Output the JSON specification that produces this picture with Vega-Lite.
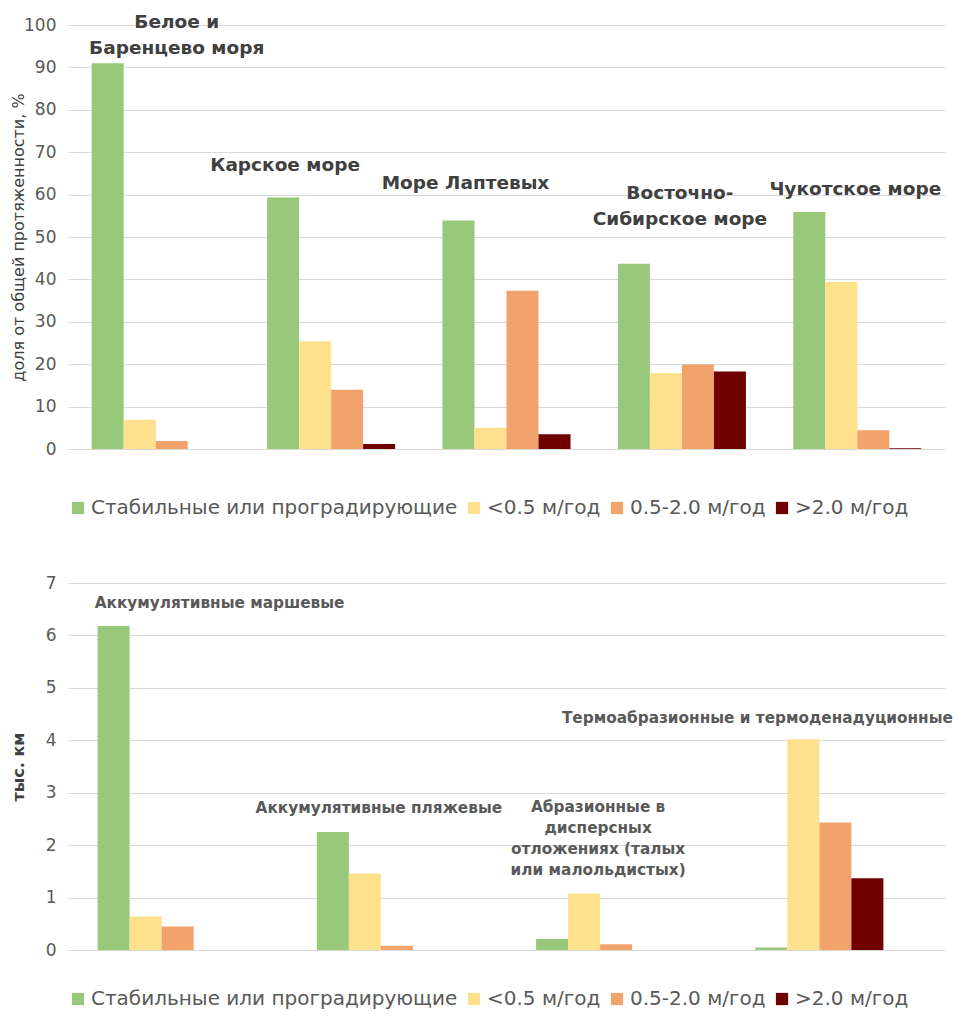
{
  "$schema": "https://vega.github.io/schema/vega-lite/v6.json",
  "background": "white",
  "padding": {"left": 10, "top": 13, "right": 5, "bottom": 5},
  "spacing": 56,
  "config": {
    "font": "DejaVu Sans",
    "view": {"stroke": null},
    "axisY": {
      "domain": false,
      "ticks": false,
      "gridColor": "#D9D9D9",
      "gridWidth": 1,
      "labelFont": "DejaVu Sans",
      "labelFontSize": 17,
      "labelColor": "#595959",
      "labelPadding": 12,
      "titleFont": "DejaVu Sans",
      "titleFontSize": 16,
      "titleColor": "#404040",
      "titleX": -50,
      "titleBaseline": "middle"
    },
    "legend": {
      "orient": "bottom",
      "direction": "horizontal",
      "title": null,
      "symbolType": "square",
      "symbolSize": 150,
      "symbolStrokeWidth": 0,
      "labelFont": "DejaVu Sans",
      "labelFontSize": 20,
      "labelColor": "#595959",
      "labelLimit": 600,
      "labelOffset": 3,
      "columnPadding": 6
    }
  },
  "datasets": {
    "seas": [
      {"sea": "Белое и Баренцево моря", "rate": "Стабильные или проградирующие", "value": 91.0},
      {"sea": "Белое и Баренцево моря", "rate": "<0.5 м/год", "value": 6.9},
      {"sea": "Белое и Баренцево моря", "rate": "0.5-2.0 м/год", "value": 1.9},
      {"sea": "Белое и Баренцево моря", "rate": ">2.0 м/год", "value": 0},
      {"sea": "Карское море", "rate": "Стабильные или проградирующие", "value": 59.3},
      {"sea": "Карское море", "rate": "<0.5 м/год", "value": 25.4},
      {"sea": "Карское море", "rate": "0.5-2.0 м/год", "value": 14.0},
      {"sea": "Карское море", "rate": ">2.0 м/год", "value": 1.2},
      {"sea": "Море Лаптевых", "rate": "Стабильные или проградирующие", "value": 53.9},
      {"sea": "Море Лаптевых", "rate": "<0.5 м/год", "value": 5.0},
      {"sea": "Море Лаптевых", "rate": "0.5-2.0 м/год", "value": 37.3},
      {"sea": "Море Лаптевых", "rate": ">2.0 м/год", "value": 3.5},
      {"sea": "Восточно-Сибирское море", "rate": "Стабильные или проградирующие", "value": 43.7},
      {"sea": "Восточно-Сибирское море", "rate": "<0.5 м/год", "value": 17.9},
      {"sea": "Восточно-Сибирское море", "rate": "0.5-2.0 м/год", "value": 19.9},
      {"sea": "Восточно-Сибирское море", "rate": ">2.0 м/год", "value": 18.3},
      {"sea": "Чукотское море", "rate": "Стабильные или проградирующие", "value": 55.9},
      {"sea": "Чукотское море", "rate": "<0.5 м/год", "value": 39.4},
      {"sea": "Чукотское море", "rate": "0.5-2.0 м/год", "value": 4.4},
      {"sea": "Чукотское море", "rate": ">2.0 м/год", "value": 0.2}
    ],
    "seaLabels": [
      {"sea": "Белое и Баренцево моря", "label": "Белое и\nБаренцево моря", "value": 100.7},
      {"sea": "Карское море", "label": "Карское море", "value": 67.0},
      {"sea": "Море Лаптевых", "label": "Море Лаптевых", "value": 62.7},
      {"sea": "Восточно-Сибирское море", "label": "Восточно-\nСибирское море", "value": 60.4},
      {"sea": "Чукотское море", "label": "Чукотское море", "value": 61.3}
    ],
    "types": [
      {"type": "Аккумулятивные маршевые", "rate": "Стабильные или проградирующие", "value": 6.18},
      {"type": "Аккумулятивные маршевые", "rate": "<0.5 м/год", "value": 0.64},
      {"type": "Аккумулятивные маршевые", "rate": "0.5-2.0 м/год", "value": 0.45},
      {"type": "Аккумулятивные маршевые", "rate": ">2.0 м/год", "value": 0},
      {"type": "Аккумулятивные пляжевые", "rate": "Стабильные или проградирующие", "value": 2.25},
      {"type": "Аккумулятивные пляжевые", "rate": "<0.5 м/год", "value": 1.46},
      {"type": "Аккумулятивные пляжевые", "rate": "0.5-2.0 м/год", "value": 0.08},
      {"type": "Аккумулятивные пляжевые", "rate": ">2.0 м/год", "value": 0},
      {"type": "Абразионные в дисперсных отложениях", "rate": "Стабильные или проградирующие", "value": 0.21},
      {"type": "Абразионные в дисперсных отложениях", "rate": "<0.5 м/год", "value": 1.08},
      {"type": "Абразионные в дисперсных отложениях", "rate": "0.5-2.0 м/год", "value": 0.11},
      {"type": "Абразионные в дисперсных отложениях", "rate": ">2.0 м/год", "value": 0},
      {"type": "Термоабразионные и термоденадуционные", "rate": "Стабильные или проградирующие", "value": 0.05},
      {"type": "Термоабразионные и термоденадуционные", "rate": "<0.5 м/год", "value": 4.02},
      {"type": "Термоабразионные и термоденадуционные", "rate": "0.5-2.0 м/год", "value": 2.43},
      {"type": "Термоабразионные и термоденадуционные", "rate": ">2.0 м/год", "value": 1.37}
    ],
    "typeLabels": [
      {"type": "Аккумулятивные маршевые", "label": "Аккумулятивные маршевые", "value": 6.62},
      {"type": "Аккумулятивные пляжевые", "label": "Аккумулятивные пляжевые", "value": 2.71},
      {"type": "Абразионные в дисперсных отложениях", "label": "Абразионные в\nдисперсных\nотложениях (талых\nили малольдистых)", "value": 2.73},
      {"type": "Термоабразионные и термоденадуционные", "label": "Термоабразионные и термоденадуционные", "value": 4.43}
    ]
  },
  "vconcat": [
    {
      "width": 877,
      "height": 424,
      "layer": [
        {
          "data": {"name": "seas"},
          "mark": {"type": "bar"},
          "encoding": {
            "x": {"field": "sea", "type": "nominal", "sort": ["Белое и Баренцево моря", "Карское море", "Море Лаптевых", "Восточно-Сибирское море", "Чукотское море"], "axis": null, "scale": {"paddingInner": 0.27, "paddingOuter": 0.135}},
            "xOffset": {"field": "rate", "type": "nominal", "sort": ["Стабильные или проградирующие", "<0.5 м/год", "0.5-2.0 м/год", ">2.0 м/год"]},
            "y": {"field": "value", "type": "quantitative", "scale": {"domain": [0, 100]}, "axis": {"values": [0, 10, 20, 30, 40, 50, 60, 70, 80, 90, 100], "title": "доля от общей протяженности, %", "titleFontWeight": "normal"}},
            "color": {"field": "rate", "type": "nominal", "scale": {"domain": ["Стабильные или проградирующие", "<0.5 м/год", "0.5-2.0 м/год", ">2.0 м/год"], "range": ["#98C87A", "#FFE08C", "#F2A36C", "#6E0000"]}, "legend": {"offset": 49}}
          }
        },
        {
          "data": {"name": "seaLabels"},
          "transform": [{"filter": "datum.sea === 'Белое и Баренцево моря'"}],
          "mark": {"type": "text", "fontWeight": "bold", "fontSize": 18.5, "color": "#404040", "lineBreak": "\n", "lineHeight": 26, "align": "center", "baseline": "middle", "dx": 21},
          "encoding": {"x": {"field": "sea", "type": "nominal", "sort": ["Белое и Баренцево моря", "Карское море", "Море Лаптевых", "Восточно-Сибирское море", "Чукотское море"]}, "y": {"field": "value", "type": "quantitative"}, "text": {"field": "label"}}
        },
        {
          "data": {"name": "seaLabels"},
          "transform": [{"filter": "datum.sea === 'Карское море'"}],
          "mark": {"type": "text", "fontWeight": "bold", "fontSize": 18.5, "color": "#404040", "lineBreak": "\n", "lineHeight": 26, "align": "center", "baseline": "middle", "dx": -46},
          "encoding": {"x": {"field": "sea", "type": "nominal", "sort": ["Белое и Баренцево моря", "Карское море", "Море Лаптевых", "Восточно-Сибирское море", "Чукотское море"]}, "y": {"field": "value", "type": "quantitative"}, "text": {"field": "label"}}
        },
        {
          "data": {"name": "seaLabels"},
          "transform": [{"filter": "datum.sea === 'Море Лаптевых'"}],
          "mark": {"type": "text", "fontWeight": "bold", "fontSize": 18.5, "color": "#404040", "lineBreak": "\n", "lineHeight": 26, "align": "center", "baseline": "middle", "dx": -41},
          "encoding": {"x": {"field": "sea", "type": "nominal", "sort": ["Белое и Баренцево моря", "Карское море", "Море Лаптевых", "Восточно-Сибирское море", "Чукотское море"]}, "y": {"field": "value", "type": "quantitative"}, "text": {"field": "label"}}
        },
        {
          "data": {"name": "seaLabels"},
          "transform": [{"filter": "datum.sea === 'Восточно-Сибирское море' || datum.sea === 'Чукотское море'"}],
          "mark": {"type": "text", "fontWeight": "bold", "fontSize": 18.5, "color": "#404040", "lineBreak": "\n", "lineHeight": 26, "align": "center", "baseline": "middle", "dx": -2},
          "encoding": {"x": {"field": "sea", "type": "nominal", "sort": ["Белое и Баренцево моря", "Карское море", "Море Лаптевых", "Восточно-Сибирское море", "Чукотское море"]}, "y": {"field": "value", "type": "quantitative"}, "text": {"field": "label"}}
        }
      ]
    },
    {
      "width": 877,
      "height": 367,
      "layer": [
        {
          "data": {"name": "types"},
          "mark": {"type": "bar"},
          "encoding": {
            "x": {"field": "type", "type": "nominal", "sort": ["Аккумулятивные маршевые", "Аккумулятивные пляжевые", "Абразионные в дисперсных отложениях", "Термоабразионные и термоденадуционные"], "axis": null, "scale": {"paddingInner": 0.27, "paddingOuter": 0.135}},
            "xOffset": {"field": "rate", "type": "nominal", "sort": ["Стабильные или проградирующие", "<0.5 м/год", "0.5-2.0 м/год", ">2.0 м/год"]},
            "y": {"field": "value", "type": "quantitative", "scale": {"domain": [0, 7]}, "axis": {"values": [0, 1, 2, 3, 4, 5, 6, 7], "format": "d", "title": "тыс. км", "titleFontWeight": "bold"}},
            "color": {"field": "rate", "type": "nominal", "scale": {"domain": ["Стабильные или проградирующие", "<0.5 м/год", "0.5-2.0 м/год", ">2.0 м/год"], "range": ["#98C87A", "#FFE08C", "#F2A36C", "#6E0000"]}, "legend": {"offset": 39}}
          }
        },
        {
          "data": {"name": "typeLabels"},
          "transform": [{"filter": "datum.type === 'Аккумулятивные маршевые'"}],
          "mark": {"type": "text", "fontWeight": "bold", "fontSize": 15.3, "color": "#595959", "lineBreak": "\n", "lineHeight": 21, "align": "center", "baseline": "middle", "dx": 42},
          "encoding": {"x": {"field": "type", "type": "nominal", "sort": ["Аккумулятивные маршевые", "Аккумулятивные пляжевые", "Абразионные в дисперсных отложениях", "Термоабразионные и термоденадуционные"]}, "y": {"field": "value", "type": "quantitative"}, "text": {"field": "label"}}
        },
        {
          "data": {"name": "typeLabels"},
          "transform": [{"filter": "datum.type === 'Аккумулятивные пляжевые' || datum.type === 'Абразионные в дисперсных отложениях'"}],
          "mark": {"type": "text", "fontWeight": "bold", "fontSize": 15.3, "color": "#595959", "lineBreak": "\n", "lineHeight": 21, "align": "center", "baseline": "middle", "dx": -18},
          "encoding": {"x": {"field": "type", "type": "nominal", "sort": ["Аккумулятивные маршевые", "Аккумулятивные пляжевые", "Абразионные в дисперсных отложениях", "Термоабразионные и термоденадуционные"]}, "y": {"field": "value", "type": "quantitative"}, "text": {"field": "label"}}
        },
        {
          "data": {"name": "typeLabels"},
          "transform": [{"filter": "datum.type === 'Термоабразионные и термоденадуционные'"}],
          "mark": {"type": "text", "fontWeight": "bold", "fontSize": 15.3, "color": "#595959", "lineBreak": "\n", "lineHeight": 21, "align": "center", "baseline": "middle", "dx": -78},
          "encoding": {"x": {"field": "type", "type": "nominal", "sort": ["Аккумулятивные маршевые", "Аккумулятивные пляжевые", "Абразионные в дисперсных отложениях", "Термоабразионные и термоденадуционные"]}, "y": {"field": "value", "type": "quantitative"}, "text": {"field": "label"}}
        }
      ]
    }
  ],
  "resolve": {"scale": {"color": "independent"}}
}
